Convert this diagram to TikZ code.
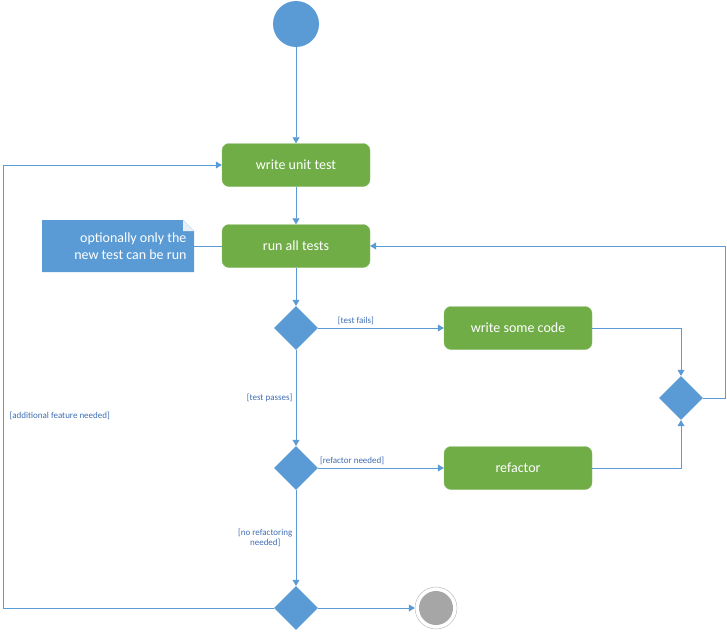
\documentclass[tikz,border=0pt]{standalone}
\usepackage{fontspec}
\setmainfont{Carlito}
\usetikzlibrary{arrows.meta,shapes.geometric}
\definecolor{actgreen}{HTML}{70AD47}
\definecolor{umlblue}{HTML}{5B9BD5}
\definecolor{guardblue}{HTML}{3F6DB3}
\begin{document}
\begin{tikzpicture}[x = 1pt, y = -1pt,
        action/.style = {draw = actgreen!80!white, fill = actgreen, rounded corners = 7pt,
            minimum width = 148pt, minimum height = 43pt, text = white, font = \fontsize{14}{16}\selectfont},
        choice/.style = {diamond, fill = umlblue, minimum width = 44pt, minimum height = 44pt, inner sep = 0pt},
        flow/.style = {draw = umlblue, semithick, -{Triangle[width = 7pt, length = 6pt]}},
        guard/.style = {text = guardblue, font = \fontsize{9}{10}\selectfont, align = center}]
    \useasboundingbox (0,0) rectangle (727,634);

    \node [circle, fill = umlblue, minimum size = 46pt] (start) at (296,24) {};
    \node [action] (write) at (296,165) {write unit test};
    \node [action] (run) at (296,246) {run all tests};
    \node [choice] (d1) at (296,328) {};
    \node [action] (code) at (518,328) {write some code};
    \node [choice] (d4) at (681,398) {};
    \node [choice] (d2) at (296,468) {};
    \node [action] (refactor) at (518,468) {refactor};
    \node [choice] (d3) at (296,608) {};
    \node [circle, draw = gray!60, fill = white, minimum size = 42pt] (stop) at (436,608) {};
    \node [circle, fill = gray!70, minimum size = 34pt] at (stop) {};

    % note
    \fill [umlblue] (42,220) -- (183,220) -- (194,231) -- (194,272) -- (42,272) -- cycle;
    \fill [white!85!umlblue] (183,220) -- (194,231) -- (183,231) -- cycle;
    \node [text = white, align = right, font = \fontsize{14}{17}\selectfont, anchor = east] (note) at (190,246)
        {optionally only the\\new test can be run};
    \draw [umlblue, semithick] (194,246) -- (run.west);

    % flows
    \draw [flow] (start) -- (write);
    \draw [flow] (write) -- (run);
    \draw [flow] (run) -- (d1);
    \draw [flow] (d1) -- node [guard, above, pos = 0.3] {[test fails]} (code);
    \draw [flow] (d1) -- node [guard, left, pos = 0.5] {[test passes]} (d2);
    \draw [flow] (code.east) -| (d4.north);
    \draw [flow] (refactor.east) -| (d4.south);
    \draw [flow] (d4.east) -- (725,398) |- (run.east);
    \draw [flow] (d2) -- node [guard, above, pos = 0.27] {[refactor needed]} (refactor);
    \draw [flow] (d2) -- node [guard, left, pos = 0.5] {[no refactoring\\needed]} (d3);
    \draw [flow] (d3) -- (stop);
    \draw [flow] (d3.west) -- (3,608) |- (write.west);
    \node [guard, anchor = west] (extra) at (6,416) {[additional feature needed]};
\end{tikzpicture}
\end{document}
